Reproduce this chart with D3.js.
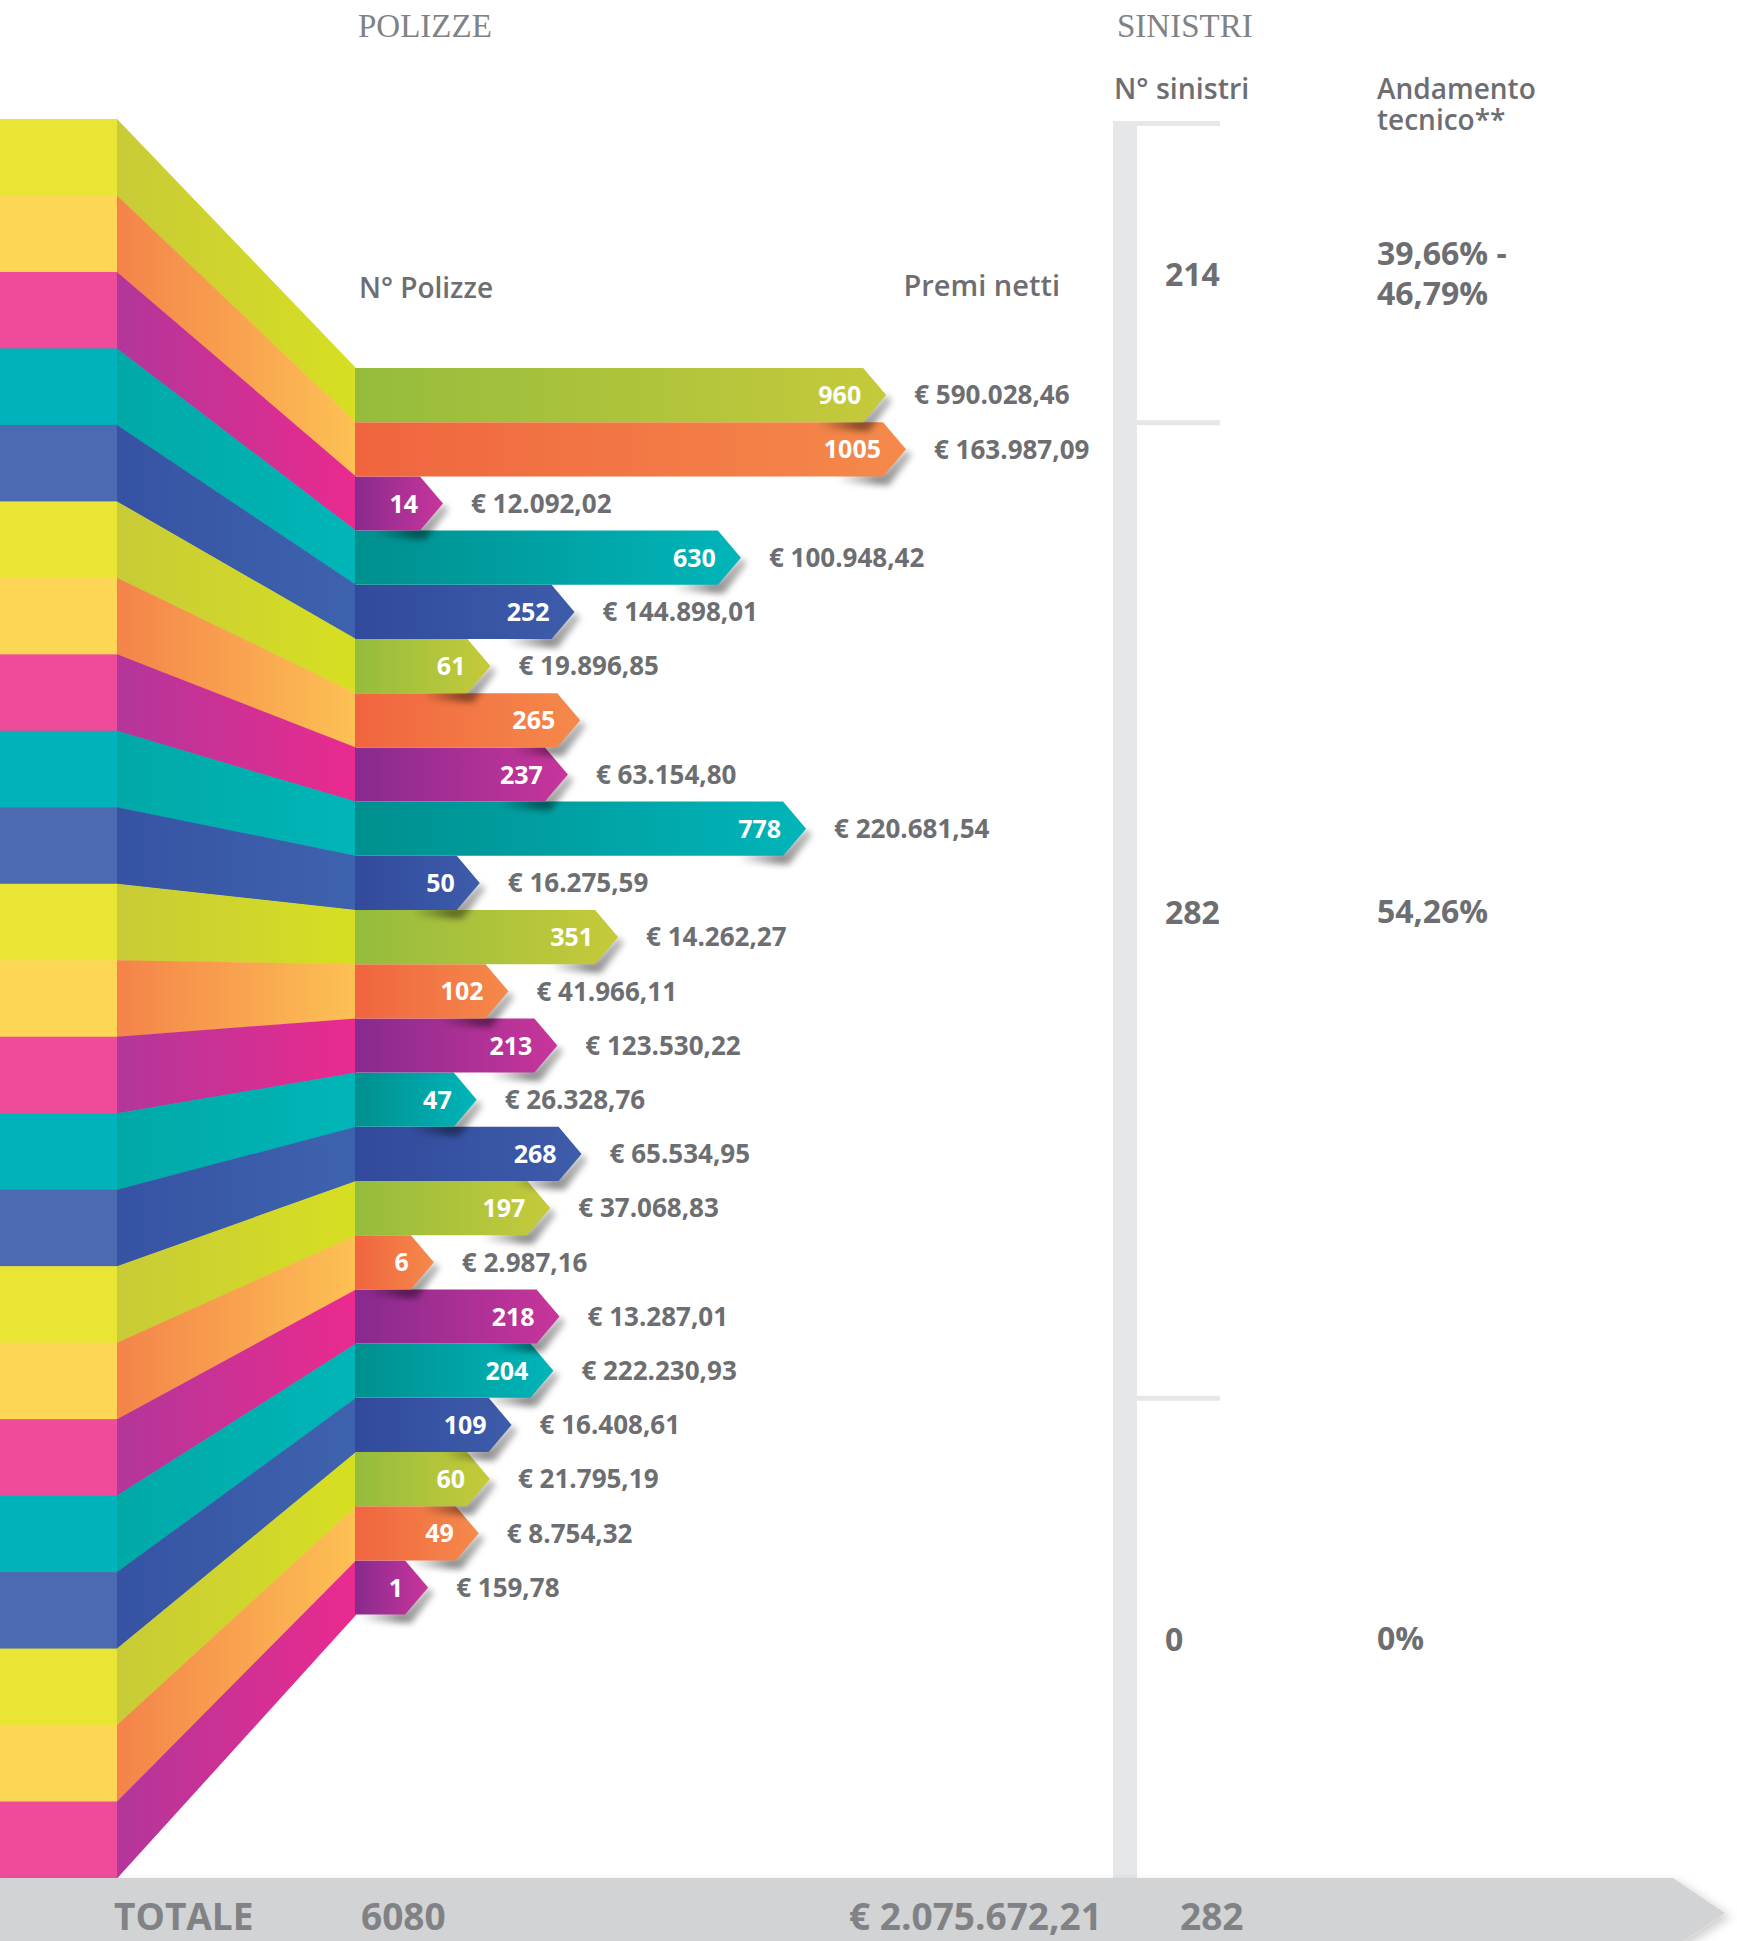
<!DOCTYPE html>
<html><head><meta charset="utf-8">
<script src="https://cdn.jsdelivr.net/npm/d3@7"></script>
<style>html,body{margin:0;padding:0;background:#fff;overflow:hidden}svg{display:block}</style>
</head><body>
<script>
// ---- data ----
const polizze = [960,1005,14,630,252,61,265,237,778,50,351,102,213,47,268,197,6,218,204,109,60,49,1];
const premi = ["€ 590.028,46","€ 163.987,09","€ 12.092,02","€ 100.948,42","€ 144.898,01","€ 19.896,85","",
  "€ 63.154,80","€ 220.681,54","€ 16.275,59","€ 14.262,27","€ 41.966,11","€ 123.530,22","€ 26.328,76",
  "€ 65.534,95","€ 37.068,83","€ 2.987,16","€ 13.287,01","€ 222.230,93","€ 16.408,61","€ 21.795,19",
  "€ 8.754,32","€ 159,78"];
const sinistriGroupStart = [0, 1, 19];
const sinistriN = ["214", "282", "0"];
const andamento = [["39,66% -", "46,79%"], ["54,26%"], ["0%"]];
const totals = ["TOTALE", "6080", "€ 2.075.672,21", "282"];
const headers = ["POLIZZE", "SINISTRI"];
const colHeaders = ["N° Polizze", "Premi netti", "N° sinistri"];
const andamentoHeader = ["Andamento", "tecnico**"];

// ---- palette ----
const stripeCol = ["#e8e535", "#fdd655", "#ee4c9b", "#00b2b9", "#4b6ab2"];
const connCol = [["#c8cb37", "#d7df21"], ["#f4834a", "#fdc154"], ["#b3369a", "#ea2a8f"], ["#00a9a6", "#00b5b8"], ["#3653a3", "#3e63ae"]];
const barCol = [["#95bc3d", "#c5ca3a"], ["#f0653f", "#f5894a"], ["#882a8e", "#c8359b"], ["#008f8f", "#00b5b9"], ["#324a9c", "#3d5caa"]];
const textCol = "#6d6e71";
const FONT = "'Open Sans', 'Noto Sans', sans-serif";

const W = 1737, H = 1941;
const svg = d3.select("body").append("svg").attr("width", W).attr("height", H);
const defs = svg.append("defs");

connCol.forEach((c, k) => {
  const g = defs.append("linearGradient").attr("id", "conn" + k)
    .attr("gradientUnits", "userSpaceOnUse").attr("x1", 117).attr("x2", 356).attr("y1", 0).attr("y2", 0);
  g.append("stop").attr("offset", 0).attr("stop-color", c[0]);
  g.append("stop").attr("offset", 1).attr("stop-color", c[1]);
});
barCol.forEach((c, k) => {
  const g = defs.append("linearGradient").attr("id", "bar" + k).attr("x1", 0).attr("x2", 1).attr("y1", 0).attr("y2", 0);
  g.append("stop").attr("offset", 0).attr("stop-color", c[0]);
  g.append("stop").attr("offset", 1).attr("stop-color", c[1]);
});
const sg = defs.append("linearGradient").attr("id", "shadowGrad").attr("x1", 0).attr("x2", 1).attr("y1", 0).attr("y2", 0);
sg.append("stop").attr("offset", 0).attr("stop-color", "#000").attr("stop-opacity", 0);
sg.append("stop").attr("offset", 0.55).attr("stop-color", "#000").attr("stop-opacity", 0.45);
sg.append("stop").attr("offset", 1).attr("stop-color", "#000").attr("stop-opacity", 0.25);
defs.append("filter").attr("id", "blur").attr("x", "-50%").attr("y", "-50%").attr("width", "200%").attr("height", "200%")
  .append("feGaussianBlur").attr("stdDeviation", 3);
const bf = defs.append("filter").attr("id", "bandShadow").attr("x", "-5%").attr("y", "-50%").attr("width", "110%").attr("height", "200%");
bf.append("feDropShadow").attr("dx", 6).attr("dy", 4).attr("stdDeviation", 5).attr("flood-color", "#000").attr("flood-opacity", 0.18);

// ---- scales ----
const idx = d3.range(polizze.length);
const yStripe = d3.scaleBand().domain(idx).range([119, 1878]);
const yBar = d3.scaleBand().domain(idx).range([368, 368 + 54.2 * polizze.length]);
// the infographic compresses the smallest values; piecewise-linear scale follows that
const xTip = d3.scaleLinear().domain([0, 14, 60, 1005]).range([427, 443, 490, 906]);
const X0 = 355, TIP = 23;

// ---- left stripes ----
svg.append("g").selectAll("rect").data(idx).join("rect")
  .attr("x", 0).attr("width", 117.5)
  .attr("y", i => yStripe(i)).attr("height", yStripe.bandwidth() + 0.6)
  .attr("fill", i => stripeCol[i % 5]);

// ---- connectors ----
svg.append("g").selectAll("path").data(idx).join("path")
  .attr("d", i => {
    const s0 = yStripe(i), s1 = s0 + yStripe.bandwidth(), b0 = yBar(i), b1 = b0 + yBar.bandwidth();
    return `M117,${s0}L${X0 + 1},${b0}L${X0 + 1},${b1 + 0.5}L117,${s1 + 0.5}Z`;
  })
  .attr("fill", i => `url(#conn${i % 5})`);

// ---- bars (drawn bottom-up so shadows fall on the bar below) ----
const gBars = svg.append("g");
idx.slice().reverse().forEach(i => {
  const y0 = yBar(i), h = yBar.bandwidth(), y1 = y0 + h, ym = y0 + h / 2;
  const tip = xTip(polizze[i]), body = tip - TIP;
  gBars.append("path")
    .attr("d", `M${body - 45},${y1 - 3}L${body},${y1 - 3}L${tip},${ym}L${tip + 6},${ym + 6}L${body + 6},${y1 + 9}L${body - 45},${y1 + 6}Z`)
    .attr("fill", "url(#shadowGrad)").attr("filter", "url(#blur)");
  gBars.append("path")
    .attr("d", `M${X0},${y0}L${body},${y0}L${tip},${ym}L${body},${y1}L${X0},${y1}Z`)
    .attr("fill", `url(#bar${i % 5})`);
});

// ---- bar labels ----
const gLab = svg.append("g").attr("font-family", FONT).attr("font-weight", 700);
gLab.selectAll("text.n").data(idx).join("text").attr("class", "n")
  .attr("x", i => xTip(polizze[i]) - 25).attr("y", i => yBar(i) + yBar.bandwidth() / 2)
  .attr("dy", "0.36em").attr("text-anchor", "end").attr("font-size", 25).attr("fill", "#fff")
  .text(i => polizze[i]);
gLab.selectAll("text.p").data(idx.filter(i => premi[i])).join("text").attr("class", "p")
  .attr("x", i => xTip(polizze[i]) + 28).attr("y", i => yBar(i) + yBar.bandwidth() / 2)
  .attr("dy", "0.36em").attr("font-size", 26).attr("fill", textCol)
  .text(i => premi[i]);

// ---- headers ----
svg.append("text").attr("x", 358).attr("y", 37).attr("font-family", "'Liberation Serif', 'DejaVu Serif', serif")
  .attr("font-size", 33).attr("fill", "#808285").text(headers[0]);
svg.append("text").attr("x", 1117).attr("y", 37).attr("font-family", "'Liberation Serif', 'DejaVu Serif', serif")
  .attr("font-size", 33).attr("fill", "#808285").text(headers[1]);
const gH = svg.append("g").attr("font-family", FONT).attr("font-weight", 600).attr("font-size", 28).attr("fill", textCol);
gH.append("text").attr("x", 359).attr("y", 298).text(colHeaders[0]);
gH.append("text").attr("x", 1060).attr("y", 296).attr("text-anchor", "end").attr("font-size", 29).text(colHeaders[1]);
gH.append("text").attr("x", 1114).attr("y", 99).attr("font-size", 28.5).text(colHeaders[2]);
const ah = gH.append("text").attr("x", 1377).attr("y", 99);
andamentoHeader.forEach((t, k) => ah.append("tspan").attr("x", 1377).attr("dy", k === 0 ? 0 : 31).text(t));

// ---- sinistri bracket ----
const bracketTop = 123, bracketBot = 1878;
const gB = svg.append("g").attr("fill", "#e6e7e8");
gB.append("rect").attr("x", 1113).attr("y", bracketTop).attr("width", 24).attr("height", bracketBot - bracketTop);
const breaks = sinistriGroupStart.map((s, k) => k === 0 ? bracketTop : yBar(s));
gB.selectAll("rect.t").data(breaks).join("rect").attr("class", "t")
  .attr("x", (d, k) => k === 0 ? 1113 : 1137).attr("y", d => d - 2)
  .attr("width", (d, k) => k === 0 ? 107 : 83).attr("height", 5);
const groupEdges = breaks.concat([bracketBot]);
const gS = svg.append("g").attr("font-family", FONT).attr("font-weight", 700).attr("font-size", 32).attr("fill", textCol);
sinistriN.forEach((n, k) => {
  const cy = (groupEdges[k] + groupEdges[k + 1]) / 2;
  gS.append("text").attr("x", 1165).attr("y", cy + 2).attr("dy", "0.36em").text(n);
  const lines = andamento[k];
  const t = gS.append("text").attr("x", 1377).attr("y", cy - (lines.length - 1) * 20 + 1).attr("dy", "0.36em");
  lines.forEach((s, j) => t.append("tspan").attr("x", 1377).attr("dy", j === 0 ? "0.36em" : 40).text(s));
});

// ---- total band ----
svg.append("path").attr("d", "M0,1878L1673,1878L1725,1913L1673,1948L0,1948Z")
  .attr("fill", "#d1d3d4").attr("filter", "url(#bandShadow)");
const totX = [114, 361, 849, 1180];
svg.append("g").attr("font-family", FONT).attr("font-weight", 700).attr("font-size", 37).attr("fill", "#808285")
  .selectAll("text").data(totals).join("text")
  .attr("x", (d, k) => totX[k]).attr("y", 1930).text(d => d);
</script>
</body></html>
